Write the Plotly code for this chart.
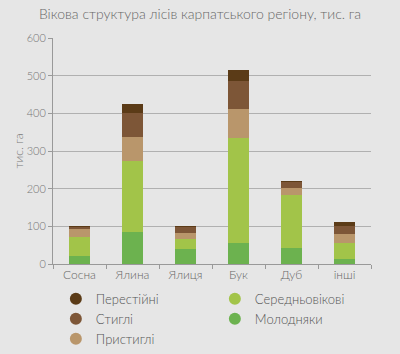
import plotly.graph_objects as go

categories = ["Сосна", "Ялина", "Ялиця", "Бук", "Дуб", "інші"]
molodniaky = [22, 84, 41, 56, 42, 14]
seredniovikovi = [49, 189, 26, 278, 140, 43]
prystyhli = [22, 65, 14, 77, 21, 23]
styhli = [6, 64, 18, 74, 15, 22]
perestiini = [1, 24, 1, 30, 1, 9]

series = [
    ("Молодняки", molodniaky, "#6cb24f", "legend2", 2),
    ("Середньовікові", seredniovikovi, "#a2c449", "legend2", 1),
    ("Пристиглі", prystyhli, "#b9966b", "legend", 3),
    ("Стиглі", styhli, "#7d5637", "legend", 2),
    ("Перестійні", perestiini, "#5b3b17", "legend", 1),
]

font_family = "Lato, 'Open Sans', sans-serif"
fig = go.Figure()
for name, vals, color, lg, rank in series:
    fig.add_trace(go.Bar(x=categories, y=vals, name=name, marker=dict(color=color, line=dict(width=0)),
                         showlegend=False, width=0.4))
for name, vals, color, lg, rank in series:
    fig.add_trace(go.Scatter(x=[None], y=[None], mode="markers", name=name, legend=lg, legendrank=rank,
                             marker=dict(symbol="circle", size=15, color=color)))

legend_common = dict(orientation="v", yanchor="top", xanchor="left", traceorder="normal",
                     font=dict(size=13, color="#555555", weight=300), itemsizing="constant",
                     itemwidth=30, bgcolor="rgba(0,0,0,0)", tracegroupgap=0)

fig.update_layout(
    width=400, height=354,
    barmode="stack",
    paper_bgcolor="#e6e6e6", plot_bgcolor="#e6e6e6",
    margin=dict(l=53, r=29, t=38, b=90, autoexpand=False),
    font=dict(family=font_family, color="#666666", size=12),
    title=dict(text="Вікова структура лісів карпатського регіону, тис. га", x=0.5, xanchor="center",
               y=0.96, yanchor="middle", yref="container",
               font=dict(size=14, color="#666666", family=font_family, weight=300)),
    showlegend=True,
    legend=dict(x=0.009, y=-0.088, **legend_common),
    legend2=dict(x=0.509, y=-0.088, **legend_common),
    bargap=0.6,
)
fig.update_yaxes(range=[0, 600], dtick=100, showgrid=True, gridcolor="#b0b0b0", gridwidth=1,
                 showline=True, linecolor="#999999", linewidth=1, ticks="outside", ticklen=4,
                 tickcolor="#999999", zeroline=False,
                 title=dict(text="тис. га", font=dict(size=12, color="#777777", weight=300), standoff=0),
                 tickfont=dict(size=11, color="#777777", weight=300))
fig.update_xaxes(showline=True, linecolor="#999999", linewidth=1, ticks="outside", ticklen=4,
                 tickcolor="#999999", tickson="boundaries",
                 tickfont=dict(size=12, color="#666666", weight=300))

fig.write_html("out.html")
